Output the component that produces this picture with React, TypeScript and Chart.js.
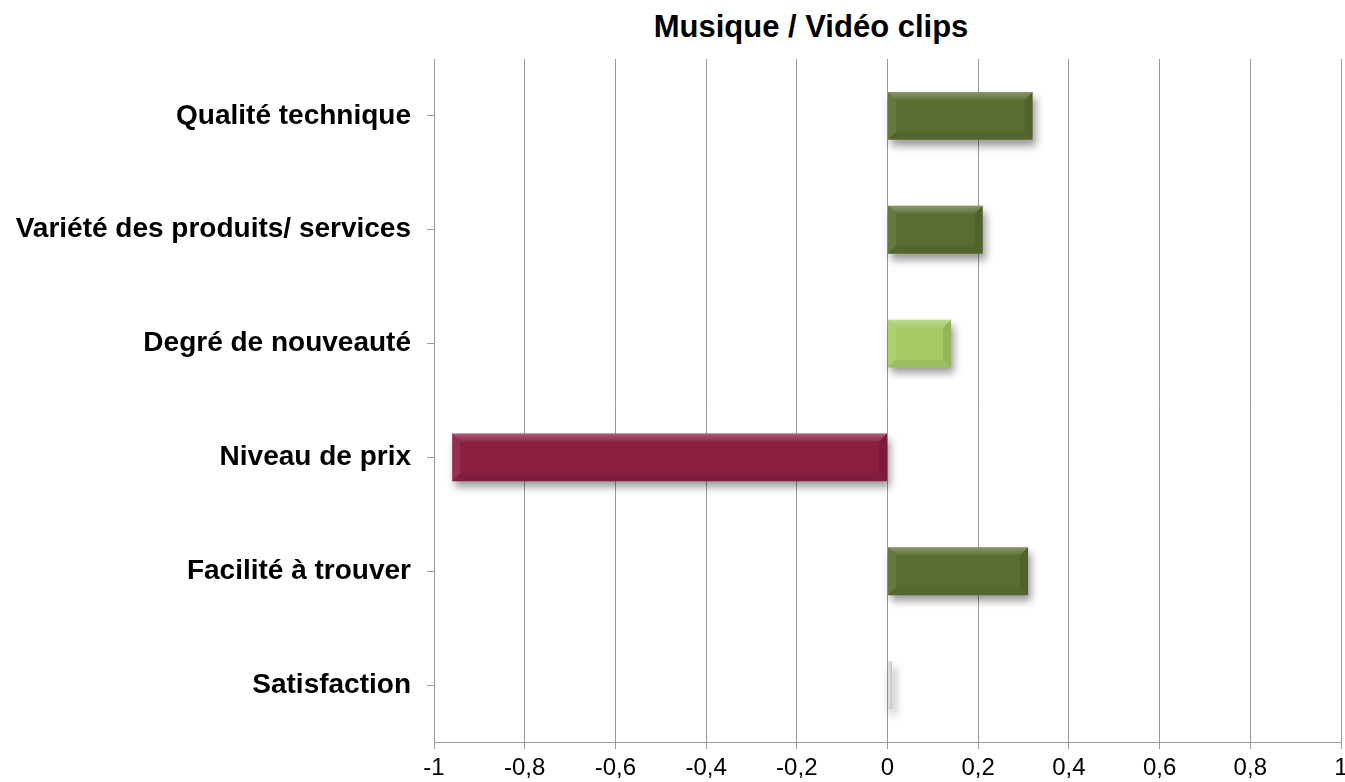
import React, { useEffect, useRef } from "react";
import { Chart, registerables } from "chart.js";

Chart.register(...registerables);

const title = "Musique / Vidéo clips";
const categories = [
  "Qualité technique",
  "Variété des produits/ services",
  "Degré de nouveauté",
  "Niveau de prix",
  "Facilité à trouver",
  "Satisfaction",
];
const values = [0.32, 0.21, 0.14, -0.96, 0.31, 0.01];
const barColors = ["#5a6d30", "#5a6d30", "#a6cb63", "#8a1f40", "#5a6d30", "#dcdcdc"];
const xMin = -1;
const xMax = 1;
const xStep = 0.2;

const shadowPlugin = {
  id: "barShadow",
  beforeDatasetsDraw(chart: any) {
    const ctx = chart.ctx;
    ctx.save();
    ctx.shadowColor = "rgba(0,0,0,0.4)";
    ctx.shadowBlur = 8;
    ctx.shadowOffsetX = 3;
    ctx.shadowOffsetY = 6;
  },
  afterDatasetsDraw(chart: any) {
    chart.ctx.restore();
    const ctx = chart.ctx;
    const meta = chart.getDatasetMeta(0);
    meta.data.forEach((bar: any) => {
      const { x, y, base, height } = bar.getProps(["x", "y", "base", "height"], true);
      const left = Math.min(x, base);
      const right = Math.max(x, base);
      const top = y - height / 2;
      const bottom = y + height / 2;
      const w = right - left;
      if (w < 4) return;
      const b = Math.min(8, w / 3);
      ctx.save();
      const g = ctx.createLinearGradient(0, top, 0, top + b);
      g.addColorStop(0, "rgba(255,255,255,0.28)");
      g.addColorStop(1, "rgba(255,255,255,0.05)");
      ctx.fillStyle = g;
      ctx.beginPath();
      ctx.moveTo(left, top);
      ctx.lineTo(right, top);
      ctx.lineTo(right - b, top + b);
      ctx.lineTo(left + b, top + b);
      ctx.closePath();
      ctx.fill();
      ctx.fillStyle = "rgba(255,255,255,0.08)";
      ctx.beginPath();
      ctx.moveTo(left, top);
      ctx.lineTo(left + b, top + b);
      ctx.lineTo(left + b, bottom - b);
      ctx.lineTo(left, bottom);
      ctx.closePath();
      ctx.fill();
      ctx.fillStyle = "rgba(0,0,0,0.1)";
      ctx.beginPath();
      ctx.moveTo(right, top);
      ctx.lineTo(right, bottom);
      ctx.lineTo(right - b, bottom - b);
      ctx.lineTo(right - b, top + b);
      ctx.closePath();
      ctx.fill();
      ctx.fillStyle = "rgba(0,0,0,0.06)";
      ctx.beginPath();
      ctx.moveTo(left, bottom);
      ctx.lineTo(right, bottom);
      ctx.lineTo(right - b, bottom - b);
      ctx.lineTo(left + b, bottom - b);
      ctx.closePath();
      ctx.fill();
      ctx.restore();
    });
  },
};

export default function App() {
  const ref = useRef<HTMLCanvasElement | null>(null);
  useEffect(() => {
    if (!ref.current) return;
    const chart = new Chart(ref.current, {
      type: "bar",
      data: {
        labels: categories,
        datasets: [
          {
            data: values,
            backgroundColor: barColors,
            borderWidth: 0,
            categoryPercentage: 1,
            barPercentage: 0.42,
          },
        ],
      },
      options: {
        indexAxis: "y",
        animation: false,
        responsive: false,
        maintainAspectRatio: false,
        layout: { padding: { top: 59, right: 4, left: 0, bottom: 0 } },
        plugins: {
          legend: { display: false },
          tooltip: { enabled: false },
          title: { display: false },
        },
        scales: {
          x: {
            min: xMin,
            max: xMax,
            ticks: {
              stepSize: xStep,
              color: "#000",
              font: { family: "'Liberation Sans', Arial, sans-serif", size: 24 },
              padding: 5,
              maxRotation: 0,
              callback: (v: any) => String(Math.round(Number(v) * 10) / 10).replace(".", ","),
            },
            grid: { color: "#9a9a9a", lineWidth: 1, tickLength: 7 },
            border: { color: "#9a9a9a" },
            afterFit: (s: any) => {
              s.height = 40;
              s.paddingRight = 0;
              s.paddingLeft = 0;
            },
          },
          y: {
            ticks: {
              color: "#000",
              font: { family: "'Liberation Sans', Arial, sans-serif", size: 28, weight: "bold" },
              padding: 16,
            },
            grid: { display: true, drawOnChartArea: false, offset: false, color: "#9a9a9a", tickLength: 7 },
            border: { color: "#9a9a9a" },
            afterFit: (s: any) => {
              s.width = 434;
            },
          },
        },
      },
      plugins: [shadowPlugin],
    } as any);
    return () => chart.destroy();
  }, []);
  return (
    <div style={{ position: "absolute", left: 0, top: 0, width: 1345, height: 782, background: "#fff" }}>
      <div
        style={{
          position: "absolute",
          left: 0,
          top: 9,
          width: 1622,
          textAlign: "center",
          fontFamily: "'Liberation Sans', Arial, sans-serif",
          fontWeight: "bold",
          fontSize: 31,
          lineHeight: "36px",
          color: "#000",
        }}
      >
        {title}
      </div>
      <canvas ref={ref} width={1345} height={782} style={{ position: "absolute", left: 0, top: 0 }} />
    </div>
  );
}
